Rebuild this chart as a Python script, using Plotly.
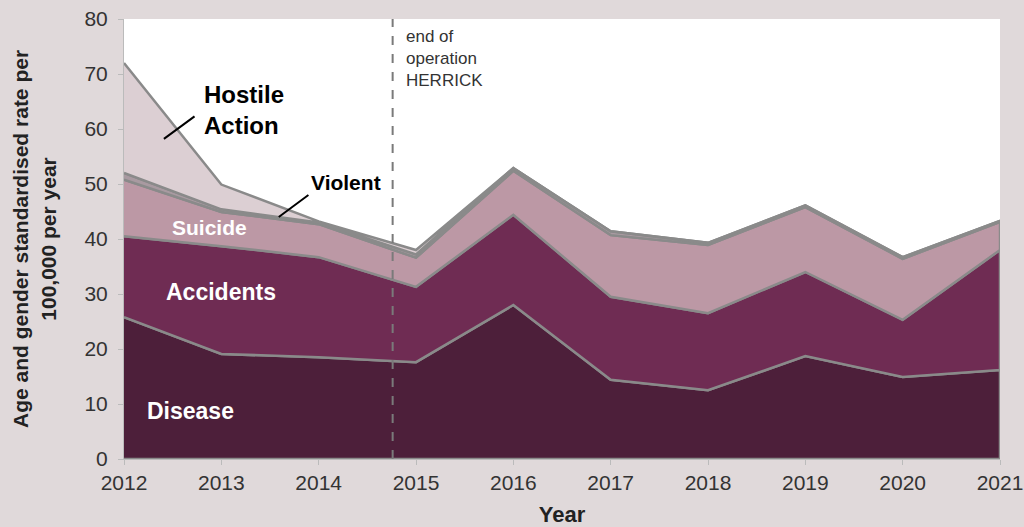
import plotly.graph_objects as go

years = [2012, 2013, 2014, 2015, 2016, 2017, 2018, 2019, 2020, 2021]
disease = [25.8, 19.1, 18.5, 17.6, 28.0, 14.4, 12.5, 18.7, 14.9, 16.2]
accidents = [14.7, 19.6, 18.2, 13.7, 16.4, 15.1, 14.0, 15.3, 10.4, 21.8]
suicide = [10.3, 6.2, 6.0, 5.3, 8.0, 11.2, 12.4, 11.8, 11.1, 5.1]
violent = [1.2, 0.5, 0.3, 0.6, 0.5, 0.7, 0.4, 0.3, 0.3, 0.2]
hostile = [20.0, 4.5, 0.2, 0.8, 0.0, 0.0, 0.0, 0.0, 0.0, 0.0]

series = [
    ("Disease", disease, "#4d1f3a"),
    ("Accidents", accidents, "#6f2c53"),
    ("Suicide", suicide, "#bc98a5"),
    ("Violent", violent, "#a99aa1"),
    ("Hostile Action", hostile, "#dccfd3"),
]
herrick_year = 2014.76
FONT = "Liberation Sans, Arial"

fig = go.Figure()
bottom = [0.0] * len(years)
for name, vals, col in series:
    top = [b + v for b, v in zip(bottom, vals)]
    fig.add_trace(go.Scatter(
        x=years + years[::-1], y=top + bottom[::-1],
        fill="toself", fillcolor=col, mode="lines",
        line=dict(color="#8a8a8a", width=2.5), name=name,
        hoverinfo="skip", showlegend=False))
    bottom = top

fig.add_shape(type="line", x0=herrick_year, x1=herrick_year, y0=0, y1=80,
              xref="x", yref="y", line=dict(color="#7a7a7a", width=2, dash="dash"))

fig.add_annotation(x=herrick_year, y=79, xref="x", yref="y", xanchor="left", yanchor="top",
                   xshift=11, align="left", showarrow=False,
                   text="end of<br>operation<br>HERRICK",
                   font=dict(family=FONT, size=17, color="#333333"))

fig.add_annotation(x=2012.80, y=63.5, text="<b>Hostile<br>Action</b>", showarrow=False,
                   align="left", xanchor="left",
                   font=dict(family=FONT, size=24, color="black"))
fig.add_annotation(x=2013.90, y=50.2, text="<b>Violent</b>", showarrow=False, xanchor="left",
                   font=dict(family=FONT, size=21, color="black"))
fig.add_annotation(x=2012.88, y=42.1, text="<b>Suicide</b>", showarrow=False,
                   font=dict(family=FONT, size=21, color="white"))
fig.add_annotation(x=2013.00, y=30.4, text="<b>Accidents</b>", showarrow=False,
                   font=dict(family=FONT, size=23, color="white"))
fig.add_annotation(x=2012.68, y=8.7, text="<b>Disease</b>", showarrow=False,
                   font=dict(family=FONT, size=23, color="white"))

# leader lines
fig.add_annotation(x=2012.41, y=58.2, ax=2012.74, ay=62.5, xref="x", yref="y",
                   axref="x", ayref="y", showarrow=True, arrowhead=0, arrowwidth=2,
                   arrowcolor="black", text="")
fig.add_annotation(x=2013.59, y=44.0, ax=2013.91, ay=48.2, xref="x", yref="y",
                   axref="x", ayref="y", showarrow=True, arrowhead=0, arrowwidth=2,
                   arrowcolor="black", text="")

tickfont = dict(family=FONT, size=21, color="#333333")
fig.update_xaxes(range=[2012, 2021], tickvals=years, ticktext=[str(y) for y in years],
                 ticks="outside", ticklen=5, tickcolor="#bbbbbb", showgrid=False,
                 showline=True, linecolor="#bbbbbb", zeroline=False, tickfont=tickfont,
                 automargin=False,
                 title=dict(text="<b>Year</b>", standoff=17,
                            font=dict(family=FONT, size=22, color="#222222")))
fig.update_yaxes(range=[0, 80], dtick=10, ticks="outside", ticklen=5, tickcolor="#bbbbbb",
                 showgrid=False, showline=True, linecolor="#bbbbbb", zeroline=False,
                 tickfont=tickfont, automargin=False, ticklabelstandoff=6,
                 title=dict(text="<b>Age and gender standardised rate per<br>100,000 per year</b>",
                            standoff=22,
                            font=dict(family=FONT, size=21, color="#222222")))

fig.update_layout(width=1024, height=527, margin=dict(l=124, r=24, t=19, b=68),
                  paper_bgcolor="#e0d9da", plot_bgcolor="white", showlegend=False)

fig.write_html("out.html", config={"displayModeBar": False},
               post_script="document.body.style.margin='0';")
